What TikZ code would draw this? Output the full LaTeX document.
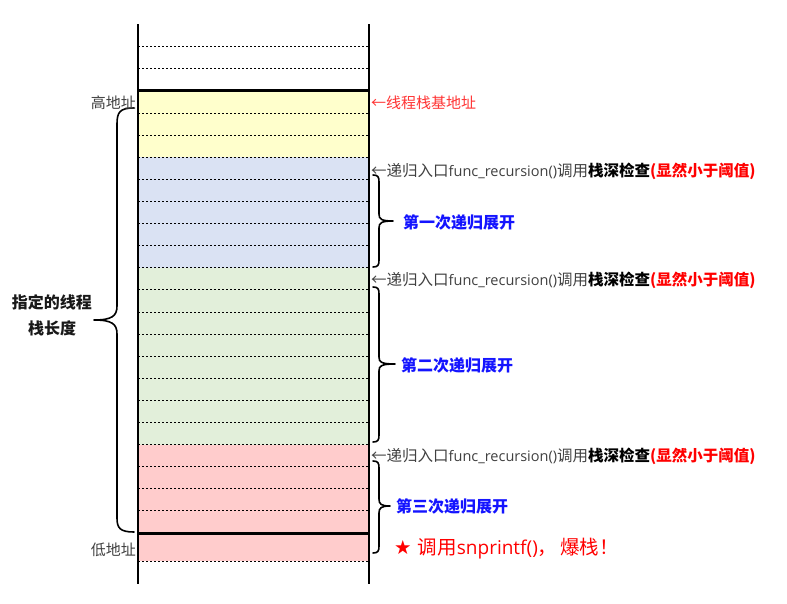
\documentclass[tikz,border=0pt]{standalone}
\usepackage{fontspec}
\setmainfont{Noto Sans CJK SC}
\newfontfamily\symfont{DejaVu Sans}
\newfontfamily\latfont{Open Sans}
\definecolor{cyellow}{RGB}{255,255,204}
\definecolor{cblue}{RGB}{218,226,243}
\definecolor{cgreen}{RGB}{226,239,218}
\definecolor{cred}{RGB}{255,204,204}
\definecolor{tgray}{RGB}{64,64,64}
\definecolor{tred}{RGB}{255,0,0}
\definecolor{lred}{RGB}{255,51,51}
\definecolor{tblue}{RGB}{20,20,255}
\newcommand\notelat[1]{{\latfont\fontsize{14.5}{16}\selectfont #1}}
\newcommand\boomlat[1]{{\latfont\fontsize{19}{22}\selectfont #1}}
\tikzset{
  dashline/.style={line width=0.9pt,dash pattern=on 2pt off 2pt},
  thickline/.style={line width=3pt},
  wall/.style={line width=2pt},
  bracepath/.style={line width=1.6pt,line cap=round,line join=round},
  note/.style={inner sep=0pt,anchor=west,text=tgray,font=\fontsize{15.5}{17}\selectfont},
  addr/.style={inner sep=0pt,anchor=east,text=tgray,font=\fontsize{15}{17}\selectfont},
  phase/.style={inner sep=0pt,anchor=west,text=tblue,font=\fontsize{16}{18}\selectfont\bfseries},
  lenlabel/.style={inner sep=0pt,text=black!90,font=\fontsize{16}{18}\selectfont\bfseries},
}
\begin{document}
\begin{tikzpicture}[x=1pt,y=-1pt]
\useasboundingbox (0,0) rectangle (787,604);
% fills
\fill[cyellow] (138,91) rectangle (369,157.3);
\fill[cblue] (138,157.3) rectangle (369,267.8);
\fill[cgreen] (138,267.8) rectangle (369,444.6);
\fill[cred] (138,444.6) rectangle (369,561);
% dashed row separators
\foreach \y in {46.8,68.9,113.1,135.2,157.3,179.4,201.5,223.6,245.7,267.8,289.9,312,334.1,356.2,378.3,400.4,422.5,444.6,466.7,488.8,510.9,561}
  \draw[dashline] (138,\y) -- (369,\y);
% thick boundaries
\draw[thickline] (138,91) -- (369,91);
\draw[thickline] (138,533) -- (369,533);
% walls
\draw[wall] (138,24.5) -- (138,583.5);
\draw[wall] (369,24.5) -- (369,583.5);
% left brace
\draw[bracepath] (134,108) .. controls (120,108) and (117,112) .. (117,124)
  -- (117,306) .. controls (117,316) and (112,320) .. (94,320)
  (94,320) .. controls (112,320) and (117,324) .. (117,334)
  -- (117,518) .. controls (117,528) and (120,532) .. (134,532);
% right braces
\draw[bracepath] (373,175) .. controls (378,175) and (379,177) .. (379,182)
  -- (379,214) .. controls (379,219) and (381,221) .. (393,221)
  (393,221) .. controls (381,221) and (379,223) .. (379,228)
  -- (379,260) .. controls (379,265) and (378,267) .. (373,267);
\draw[bracepath] (373,287) .. controls (378,287) and (379,289) .. (379,294)
  -- (379,357) .. controls (379,362) and (381,364) .. (395,364)
  (395,364) .. controls (381,364) and (379,366) .. (379,371)
  -- (379,435) .. controls (379,440) and (378,442) .. (373,442);
\draw[bracepath] (373,461) .. controls (378,461) and (379,463) .. (379,468)
  -- (379,499) .. controls (379,504) and (381,506) .. (390,506)
  (390,506) .. controls (381,506) and (379,508) .. (379,513)
  -- (379,546) .. controls (379,551) and (378,553) .. (373,553);
% address labels
\node[addr] (high) at (136,103) {高地址};
\node[addr] (low) at (136,550) {低地址};
\node[inner sep=0pt,anchor=west,text=lred,font=\fontsize{15}{17}\selectfont] (base) at (371,103) {←线程栈基地址};
% left length label
\node[lenlabel] (len1) at (52,302) {指定的线程};
\node[lenlabel] (len2) at (52,328) {栈长度};
% recursion entry notes
\node[note] (n1) at (371,171) {←递归入口\notelat{func\_recursion()}调用{\color{black}\bfseries 栈深检查}{\color{tred}\bfseries (显然小于阈值)}};
\node[note] (n2) at (371,280) {←递归入口\notelat{func\_recursion()}调用{\color{black}\bfseries 栈深检查}{\color{tred}\bfseries (显然小于阈值)}};
\node[note] (n3) at (371,456) {←递归入口\notelat{func\_recursion()}调用{\color{black}\bfseries 栈深检查}{\color{tred}\bfseries (显然小于阈值)}};
% phase labels
\node[phase] (p1) at (403,222) {第一次递归展开};
\node[phase] (p2) at (401,365) {第二次递归展开};
\node[phase] (p3) at (396,506) {第三次递归展开};
% overflow
\node[inner sep=0pt,anchor=west,text=tred,font=\fontsize{19.5}{22}\selectfont] (boom) at (394,549) {{\symfont ★ }调用\boomlat{snprintf()}，\kern3pt 爆栈！};
\end{tikzpicture}
\end{document}
